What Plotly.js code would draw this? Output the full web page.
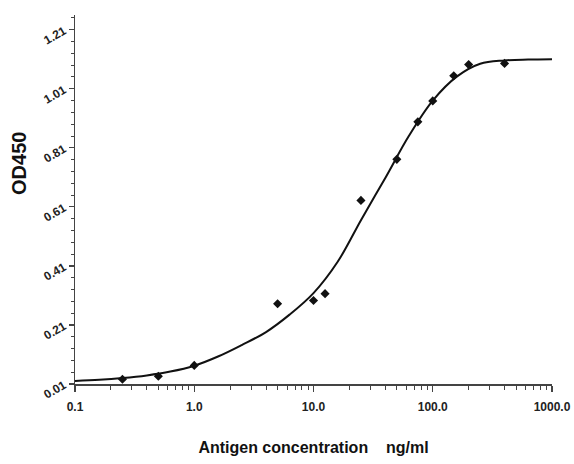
<!DOCTYPE html>
<html>
<head>
<meta charset="utf-8">
<script src="https://cdn.plot.ly/plotly-3.0.1.min.js"></script>
<style>html,body{margin:0;padding:0;background:#fff;}#chart{width:574px;height:464px;}</style>
</head>
<body>
<div id="chart"></div>
<script>
// Measured standards
const concentration = [0.25, 0.5, 1.0, 5, 10, 12.5, 25, 50, 75, 100, 150, 200, 400];
const od450 = [0.026, 0.036, 0.073, 0.282, 0.293, 0.316, 0.632, 0.771, 0.898, 0.969, 1.054, 1.092, 1.096];

// Fitted curve
const curveX = [0.1, 0.16, 0.25, 0.4, 0.63, 1, 1.6, 2.5, 4, 6.3, 10, 16, 25, 40, 63, 100, 160, 250, 400, 630, 1000];
const curveY = [0.020, 0.024, 0.030, 0.039, 0.052, 0.072, 0.104, 0.142, 0.186, 0.245, 0.318, 0.425, 0.565, 0.708, 0.850, 0.970, 1.052, 1.095, 1.106, 1.109, 1.110];

const xTickVals = [0.1, 1, 10, 100, 1000];
const xTickText = ['0.1', '1.0', '10.0', '100.0', '1000.0'];
const xMinorVals = [];
[0.1, 1, 10, 100].forEach(d => { for (let k = 2; k <= 9; k++) xMinorVals.push(d * k); });

const axisColor = '#444';
const sans = 'Liberation Sans, Arial, sans-serif';
const xTickFont = {family: sans, size: 12, color: '#222', weight: 'bold'};
const yTickFont = {family: sans, size: 12, color: '#222', weight: 'bold'};

const traces = [
  {x: curveX, y: curveY, type: 'scatter', mode: 'lines', line: {color: '#111', width: 2, shape: 'spline', smoothing: 1}, hoverinfo: 'skip'},
  {x: concentration, y: od450, type: 'scatter', mode: 'markers', marker: {symbol: 'diamond', size: 7, color: '#111'}}
];

const layout = {
  width: 574, height: 464,
  margin: {l: 75, r: 22, t: 15, b: 80},
  paper_bgcolor: '#fff', plot_bgcolor: '#fff',
  showlegend: false,
  xaxis: {
    type: 'log', range: [-1, 3],
    tickmode: 'array', tickvals: xTickVals, ticktext: xTickText,
    ticks: 'outside', ticklen: 6, tickwidth: 1.2, tickcolor: axisColor,
    ticklabelstandoff: 5,
    minor: {tickmode: 'array', tickvals: xMinorVals, ticks: 'outside', ticklen: 4, tickwidth: 1, tickcolor: axisColor},
    showline: true, linecolor: axisColor, linewidth: 1.5,
    showgrid: false, zeroline: false,
    tickfont: xTickFont,
    title: {text: 'Antigen concentration\u00a0\u00a0\u00a0\u00a0ng/ml', font: {family: sans, size: 16, color: '#111', weight: 'bold'}, standoff: 29}
  },
  yaxis: {
    range: [0.01, 1.26],
    tick0: 0.01, dtick: 0.2, tickformat: '.2f',
    ticks: 'outside', ticklen: 5, tickwidth: 1.2, tickcolor: axisColor,
    ticklabelstandoff: 2,
    minor: {tick0: 0.01, dtick: 0.04, ticks: 'outside', ticklen: 3, tickwidth: 1, tickcolor: axisColor},
    showline: true, linecolor: axisColor, linewidth: 1.5,
    showgrid: false, zeroline: false,
    tickangle: -30,
    tickfont: yTickFont
  },
  annotations: [{
    text: 'OD450', textangle: -90, xref: 'paper', yref: 'paper',
    x: -0.119, y: 0.597, xanchor: 'center', yanchor: 'middle', showarrow: false,
    font: {family: sans, size: 20, color: '#111', weight: 'bold'}
  }]
};

Plotly.newPlot('chart', traces, layout, {displayModeBar: false, staticPlot: true});
</script>
</body>
</html>
